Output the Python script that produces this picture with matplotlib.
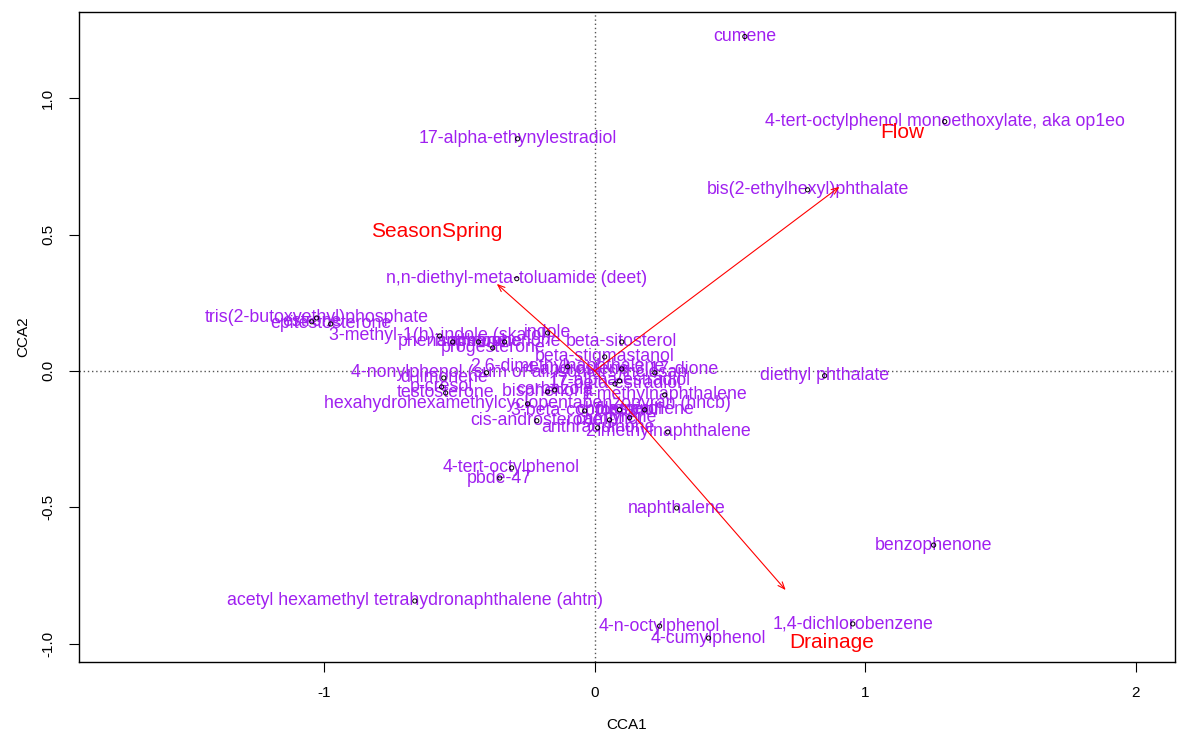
import matplotlib
matplotlib.use("Agg")
import matplotlib.pyplot as plt

plt.rcParams['font.family'] = ['Liberation Sans', 'DejaVu Sans']

species = [
    "cumene",
    "4-tert-octylphenol monoethoxylate, aka op1eo",
    "17-alpha-ethynylestradiol",
    "bis(2-ethylhexyl)phthalate",
    "n,n-diethyl-meta-toluamide (deet)",
    "tris(2-butoxyethyl)phosphate",
    "epitestosterone",
    "estrone",
    "3-methyl-1(h)-indole (skatol)",
    "indole",
    "phenanthrene",
    "isophorone",
    "acetophenone",
    "progesterone",
    "beta-sitosterol",
    "beta-stigmastanol",
    "2,6-dimethylnaphthalene",
    "4-androstene-3,17-dione",
    "4-nonylphenol (sum of all isomers)",
    "triclosan",
    "d-limonene",
    "p-cresol",
    "testosterone",
    "bisphenol a",
    "17-alpha-estradiol",
    "17-beta-estradiol",
    "carbazole",
    "1-methylnaphthalene",
    "hexahydrohexamethylcyclopentabenzopyran (hhcb)",
    "3-beta-coprostanol",
    "cholesterol",
    "fluoranthene",
    "pyrene",
    "camphor",
    "cis-androsterone",
    "anthraquinone",
    "2-methylnaphthalene",
    "diethyl phthalate",
    "4-tert-octylphenol",
    "pbde-47",
    "naphthalene",
    "benzophenone",
    "acetyl hexamethyl tetrahydronaphthalene (ahtn)",
    "1,4-dichlorobenzene",
    "4-n-octylphenol",
    "4-cumylphenol",
]
cca1 = [0.555, 1.294, -0.285, 0.787, -0.288, -1.028, -0.976, -1.046, -0.573, -0.174,
        -0.525, -0.430, -0.333, -0.377, 0.100, 0.037, -0.100, 0.100, -0.400, 0.222,
        -0.558, -0.566, -0.551, -0.174, 0.092, 0.075, -0.148, 0.259, -0.248, -0.037,
        0.092, 0.185, 0.129, 0.055, -0.214, 0.011, 0.270, 0.850, -0.307, -0.351,
        0.303, 1.253, -0.665, 0.954, 0.240, 0.421]
cca2 = [1.226, 0.914, 0.851, 0.664, 0.338, 0.194, 0.172, 0.180, 0.128, 0.139,
        0.106, 0.106, 0.106, 0.084, 0.106, 0.051, 0.015, 0.007, -0.007, -0.007,
        -0.026, -0.059, -0.081, -0.077, -0.037, -0.048, -0.070, -0.088, -0.121, -0.147,
        -0.143, -0.143, -0.172, -0.180, -0.183, -0.209, -0.224, -0.018, -0.356, -0.393,
        -0.503, -0.639, -0.844, -0.928, -0.936, -0.980]

env_names = ["Flow", "SeasonSpring", "Drainage"]
env_x = [0.905, -0.362, 0.706]
env_y = [0.675, 0.319, -0.804]
env_lab_x = [1.139, -0.584, 0.876]
env_lab_y = [0.873, 0.510, -0.998]

xticks = [-1, 0, 1, 2]
yticks = [-1.0, -0.5, 0.0, 0.5, 1.0]

fig = plt.figure(figsize=(11.77, 7.34), dpi=100)
ax = fig.add_axes([0.067, 0.098, 0.931, 0.886])
ax.set_xlim(-1.907, 2.144)
ax.set_ylim(-1.068, 1.317)

ax.axhline(0, color='#555555', ls=(0, (1, 2)), lw=1, zorder=1)
ax.axvline(0, color='#555555', ls=(0, (1, 2)), lw=1, zorder=1)

for n, x, y in zip(species, cca1, cca2):
    ax.text(x, y, n, color='#A020F0', fontsize=12.8, ha='center', va='center', zorder=3)
ax.scatter(cca1, cca2, s=9, facecolors='none', edgecolors='black', linewidths=0.7, zorder=4)

for n, x, y, lx, ly in zip(env_names, env_x, env_y, env_lab_x, env_lab_y):
    ax.annotate('', xy=(x, y), xytext=(0, 0),
                arrowprops=dict(arrowstyle='->,head_length=0.5,head_width=0.2',
                                color='red', lw=0.8, shrinkA=0, shrinkB=0), zorder=5)
    ax.text(lx, ly, n, color='red', fontsize=15, ha='center', va='center', zorder=6)

ax.set_xticks(xticks)
ax.set_xticklabels([f"{t:g}" for t in xticks])
ax.set_yticks(yticks)
ax.set_yticklabels([f"{t:.1f}" for t in yticks], rotation=90, va='center')
ax.tick_params(axis='both', labelsize=11, length=7, width=0.8, pad=10)
for s in ax.spines.values():
    s.set_linewidth(1)
ax.set_xlabel("CCA1", fontsize=11, labelpad=13)
ax.set_ylabel("CCA2", fontsize=11, labelpad=8)

fig.savefig("out.png", dpi=100)
